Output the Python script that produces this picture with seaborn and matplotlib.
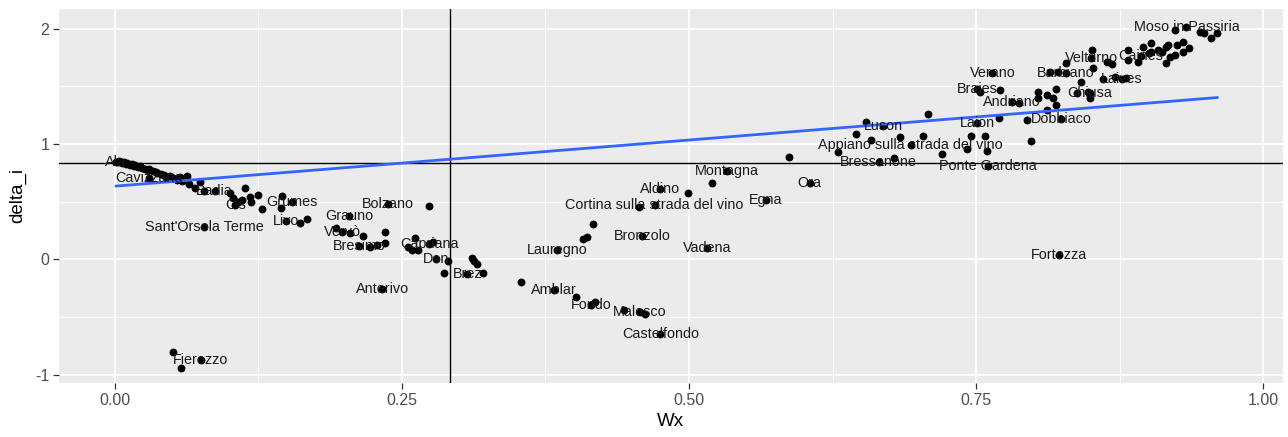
import numpy as np
import pandas as pd
import matplotlib
matplotlib.use("Agg")
import matplotlib.pyplot as plt
import seaborn as sns
from matplotlib.ticker import FixedLocator

# Labelled municipalities (spatial lag Wx, local statistic delta_i)
lab_names = [
    "Ala", "Cavizzana", "Badia", "Cis", "Grumes", "Livo", "Sant'Orsola Terme",
    "Grauno", "Vervò", "Bresimo", "Bolzano", "Capriana", "Don", "Brez",
    "Anterivo", "Fierozzo", "Lauregno", "Amblar", "Fondo", "Malosco",
    "Castelfondo", "Bronzolo", "Vadena", "Aldino", "Cortina sulla strada del vino",
    "Montagna", "Egna", "Ora", "Luson", "Appiano sulla strada del vino",
    "Bressanone", "Laion", "Ponte Gardena", "Fortezza", "Dobbiaco", "Andriano",
    "Braies", "Verano", "Barbiano", "Chiusa", "Laives", "Velturno", "Caines",
    "Moso in Passiria",
]
lab_wx = [
    0.001, 0.030, 0.087, 0.105, 0.154, 0.149, 0.078,
    0.204, 0.198, 0.213, 0.238, 0.274, 0.280, 0.307,
    0.233, 0.075, 0.385, 0.382, 0.415, 0.457,
    0.475, 0.459, 0.516, 0.475, 0.470,
    0.533, 0.567, 0.605, 0.669, 0.693,
    0.665, 0.751, 0.760, 0.822, 0.824, 0.781,
    0.751, 0.764, 0.828, 0.849, 0.877, 0.850, 0.893,
    0.933,
]
lab_delta = [
    0.843, 0.704, 0.591, 0.470, 0.496, 0.335, 0.278,
    0.374, 0.235, 0.113, 0.478, 0.130, 0.000, -0.122,
    -0.252, -0.870, 0.078, -0.261, -0.391, -0.452,
    -0.643, 0.200, 0.096, 0.609, 0.470,
    0.765, 0.513, 0.661, 1.157, 0.991,
    0.843, 1.183, 0.809, 0.043, 1.217, 1.365,
    1.478, 1.617, 1.617, 1.443, 1.565, 1.748, 1.765,
    2.017,
]

# Remaining municipalities
other_wx = [
    0.003, 0.004, 0.006, 0.008, 0.010, 0.011, 0.013, 0.015, 0.017, 0.018,
    0.020, 0.022, 0.024, 0.026, 0.029, 0.030, 0.033, 0.036, 0.037, 0.040,
    0.043, 0.045, 0.048, 0.051, 0.054, 0.057, 0.059, 0.063, 0.065, 0.070,
    0.074, 0.078,
    0.100, 0.103, 0.107, 0.111, 0.113, 0.118, 0.119, 0.125, 0.128, 0.146,
    0.145, 0.161, 0.167,
    0.193, 0.205, 0.216, 0.235, 0.228, 0.235, 0.222, 0.274, 0.261, 0.255,
    0.259, 0.264, 0.277, 0.290, 0.287, 0.311, 0.313, 0.315, 0.321,
    0.051, 0.058,
    0.354, 0.402, 0.418, 0.443, 0.462, 0.408, 0.411, 0.416, 0.456, 0.499,
    0.520, 0.587,
    0.630, 0.645, 0.654, 0.658, 0.684, 0.704, 0.708, 0.678, 0.720, 0.742,
    0.745, 0.758, 0.759, 0.770, 0.794, 0.798,
    0.753, 0.771, 0.787, 0.804, 0.812, 0.804, 0.819, 0.817, 0.819, 0.812,
    0.847, 0.849, 0.838, 0.814, 0.821, 0.828, 0.851, 0.852, 0.841, 0.860,
    0.871, 0.880, 0.864, 0.868, 0.882, 0.882, 0.891, 0.895, 0.902, 0.902,
    0.908, 0.912, 0.915, 0.917, 0.915, 0.919, 0.923, 0.925, 0.930, 0.930,
    0.935, 0.923, 0.945, 0.948, 0.954, 0.960, 0.900,
]
other_delta = [
    0.843, 0.852, 0.835, 0.843, 0.826, 0.835, 0.817, 0.826, 0.809, 0.817,
    0.800, 0.809, 0.791, 0.783, 0.774, 0.783, 0.765, 0.757, 0.748, 0.739,
    0.730, 0.713, 0.722, 0.704, 0.687, 0.713, 0.678, 0.722, 0.652, 0.617,
    0.670, 0.591,
    0.574, 0.530, 0.496, 0.513, 0.617, 0.539, 0.496, 0.557, 0.435, 0.548,
    0.443, 0.313, 0.348,
    0.270, 0.226, 0.200, 0.235, 0.122, 0.139, 0.104, 0.461, 0.183, 0.104,
    0.078, 0.078, 0.148, -0.009, -0.113, 0.017, -0.009, -0.035, -0.113,
    -0.800, -0.939,
    -0.191, -0.322, -0.365, -0.435, -0.470, 0.174, 0.191, 0.304, 0.452, 0.574,
    0.661, 0.887,
    0.930, 1.087, 1.191, 1.035, 1.061, 1.070, 1.261, 0.878, 0.913, 0.957,
    1.070, 1.070, 0.939, 1.226, 1.209, 1.026,
    1.452, 1.470, 1.357, 1.452, 1.426, 1.400, 1.478, 1.400, 1.339, 1.296,
    1.452, 1.400, 1.443, 1.626, 1.626, 1.704, 1.817, 1.661, 1.539, 1.565,
    1.583, 1.574, 1.713, 1.696, 1.817, 1.730, 1.713, 1.843, 1.878, 1.800,
    1.817, 1.800, 1.843, 1.861, 1.704, 1.757, 1.774, 1.861, 1.887, 1.800,
    1.835, 1.991, 1.974, 1.965, 1.922, 1.965, 1.791,
]

# Reference lines (means of Wx and delta_i)
mean_wx = 0.292
mean_delta = 0.835

# Fitted trend line: intercept and slope
trend_intercept = 0.635
trend_slope = 0.80

df = pd.DataFrame({
    "Wx": lab_wx + other_wx,
    "delta_i": lab_delta + other_delta,
})

x_span = np.array([df["Wx"].min(), df["Wx"].max()])
trend = pd.DataFrame({"Wx": x_span, "delta_i": trend_intercept + trend_slope * x_span})

sns.set_theme(style="darkgrid")
plt.rcParams["font.family"] = ["Liberation Sans", "DejaVu Sans"]

fig = plt.figure(figsize=(12.88, 4.37), dpi=100)
ax = fig.add_axes([0.0458, 0.1236, 0.9503, 0.8558])
ax.set_facecolor("#EBEBEB")
for s in ax.spines.values():
    s.set_visible(False)

ax.set_xlim(-0.0485, 1.017)
ax.set_ylim(-1.07, 2.17)
ax.xaxis.set_major_locator(FixedLocator([0.0, 0.25, 0.5, 0.75, 1.0]))
ax.xaxis.set_minor_locator(FixedLocator([0.125, 0.375, 0.625, 0.875]))
ax.yaxis.set_major_locator(FixedLocator([-1, 0, 1, 2]))
ax.yaxis.set_minor_locator(FixedLocator([-0.5, 0.5, 1.5]))
ax.grid(which="major", color="white", linewidth=1.3)
ax.grid(which="minor", color="white", linewidth=0.6)
ax.set_axisbelow(True)

ax.tick_params(axis="both", which="major", length=4, width=0.9, color="#333333",
               labelsize=11.5, labelcolor="#4D4D4D", pad=3, direction="out",
               bottom=True, left=True)
ax.tick_params(axis="both", which="minor", length=0)
ax.set_xticklabels(["0.00", "0.25", "0.50", "0.75", "1.00"])
ax.set_yticklabels(["-1", "0", "1", "2"])

ax.axhline(mean_delta, color="black", linewidth=1.0, zorder=2)
ax.axvline(mean_wx, color="black", linewidth=1.0, zorder=2)

sns.scatterplot(data=df, x="Wx", y="delta_i", ax=ax, s=32, color="black",
                linewidth=0, alpha=1.0, zorder=3)
sns.lineplot(data=trend, x="Wx", y="delta_i", ax=ax, color="#3366FF",
             linewidth=2.0, zorder=4)

for name, x, y in zip(lab_names, lab_wx, lab_delta):
    ax.text(x, y, name, ha="center", va="center", fontsize=10.4,
            color="#1A1A1A", zorder=5)

ax.set_xlabel("Wx", fontsize=13.5, color="black", labelpad=4)
ax.set_ylabel("delta_i", fontsize=13.5, color="black", labelpad=6)

fig.savefig("out.png", dpi=100)
